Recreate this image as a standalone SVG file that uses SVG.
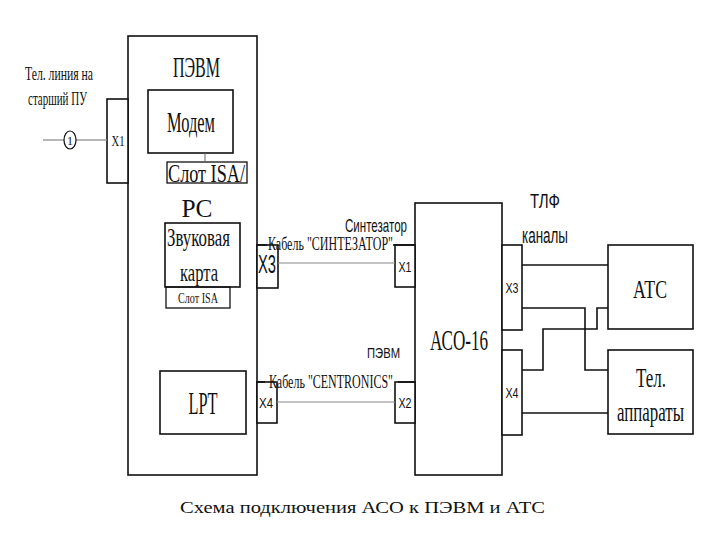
<svg xmlns="http://www.w3.org/2000/svg" width="720" height="540" viewBox="0 0 720 540">
<style>
.box{fill:#fff;stroke:#111;stroke-width:1.6}
.sbox{fill:none;stroke:#111;stroke-width:1.3}
.wire{fill:none;stroke:#111;stroke-width:1.6}
.thin{fill:none;stroke:#888;stroke-width:1.2}
.serif{font-family:"Liberation Serif","DejaVu Serif",serif;fill:#111}
.sans{font-family:"Liberation Sans","DejaVu Sans",sans-serif;fill:#111}
.c{text-anchor:middle}
</style>
<rect width="720" height="540" fill="#fff"/>

<g id="tel-line-label">
<text class="serif c" x="59" y="80" font-size="19" textLength="68" lengthAdjust="spacingAndGlyphs">Тел. линия на</text>
<text class="serif c" x="57.5" y="105" font-size="19" textLength="59" lengthAdjust="spacingAndGlyphs">старший ПУ</text>
</g>

<g id="pevm">
<rect class="box" x="128" y="36" width="129" height="439"/>
<text class="serif c" x="196.5" y="77" font-size="29" textLength="47" lengthAdjust="spacingAndGlyphs">ПЭВМ</text>
<text class="serif c" x="197" y="217" font-size="25" textLength="31" lengthAdjust="spacingAndGlyphs">PC</text>
</g>

<g id="x1-pevm">
<rect class="box" x="107" y="99" width="21" height="84"/>
<text class="serif c" x="118" y="146" font-size="15" textLength="13" lengthAdjust="spacingAndGlyphs">X1</text>
</g>

<g id="modem">
<rect class="box" x="148" y="90" width="85" height="63"/>
<text class="serif c" x="191" y="132" font-size="29" textLength="48" lengthAdjust="spacingAndGlyphs">Модем</text>
</g>

<g id="slot-isa-1">
<rect class="sbox" x="167" y="162" width="80" height="21" stroke="#555"/>
<text class="serif c" x="206.5" y="182" font-size="25" textLength="77" lengthAdjust="spacingAndGlyphs">Слот ISA/</text>
</g>

<g id="sound-card">
<rect class="box" x="165" y="223" width="75" height="64"/>
<text class="serif c" x="198.5" y="246" font-size="26" textLength="63" lengthAdjust="spacingAndGlyphs">Звуковая</text>
<text class="serif c" x="199" y="281" font-size="26" textLength="38" lengthAdjust="spacingAndGlyphs">карта</text>
</g>

<g id="slot-isa-2">
<rect class="sbox" x="166" y="287" width="64" height="21"/>
<text class="serif c" x="198" y="303" font-size="15" textLength="40" lengthAdjust="spacingAndGlyphs">Слот ISA</text>
</g>

<g id="lpt">
<rect class="box" x="160" y="371" width="86" height="63"/>
<text class="serif c" x="203" y="414" font-size="32" textLength="29" lengthAdjust="spacingAndGlyphs">LPT</text>
</g>

<g id="x3-pevm">
<rect class="box" x="257" y="245" width="21" height="43"/>
<text class="sans c" x="267" y="273" font-size="25" textLength="18" lengthAdjust="spacingAndGlyphs">X3</text>
</g>

<g id="x4-pevm">
<rect class="box" x="257" y="382" width="20" height="41"/>
<text class="sans c" x="266" y="408" font-size="14" textLength="14" lengthAdjust="spacingAndGlyphs">X4</text>
</g>

<g id="aso16">
<rect class="box" x="415" y="203" width="87" height="272"/>
<text class="serif c" x="459" y="350" font-size="30" textLength="58" lengthAdjust="spacingAndGlyphs">АСО-16</text>
</g>

<g id="x1-aso">
<rect class="box" x="395" y="245" width="20" height="42"/>
<text class="sans c" x="405" y="272" font-size="14" textLength="13" lengthAdjust="spacingAndGlyphs">X1</text>
</g>

<g id="x2-aso">
<rect class="box" x="395" y="382" width="20" height="41"/>
<text class="sans c" x="405" y="408" font-size="14" textLength="13" lengthAdjust="spacingAndGlyphs">X2</text>
</g>

<g id="x3-aso">
<rect class="box" x="502" y="245" width="20" height="85"/>
<text class="sans c" x="512" y="293" font-size="14" textLength="13" lengthAdjust="spacingAndGlyphs">X3</text>
</g>

<g id="x4-aso">
<rect class="box" x="502" y="350" width="20" height="85"/>
<text class="sans c" x="512" y="398" font-size="14" textLength="13" lengthAdjust="spacingAndGlyphs">X4</text>
</g>

<g id="atc">
<rect class="box" x="608" y="245" width="85" height="84"/>
<text class="serif c" x="650" y="298" font-size="26" textLength="34" lengthAdjust="spacingAndGlyphs">АТС</text>
</g>

<g id="tel-apparaty">
<rect class="box" x="608" y="350" width="85" height="84"/>
<text class="serif c" x="651" y="387" font-size="28" textLength="30" lengthAdjust="spacingAndGlyphs">Тел.</text>
<text class="serif c" transform="translate(650.5,421) scale(1,1.27)" x="0" y="0" font-size="22" textLength="67" lengthAdjust="spacingAndGlyphs">аппараты</text>
</g>

<g id="connectors">
<line class="thin" x1="43" y1="140" x2="64" y2="140"/>
<line class="thin" x1="76" y1="140" x2="107" y2="140"/>
<ellipse cx="70" cy="140" rx="6" ry="9" fill="#fff" stroke="#111" stroke-width="1.2"/>
<text class="serif c" x="70" y="145" font-size="12">1</text>
<line x1="205" y1="153" x2="205" y2="162" stroke="#666" stroke-width="1"/>
<line class="wire" x1="257" y1="245" x2="267" y2="245" stroke-width="1.2"/>
<line class="wire" x1="393" y1="245" x2="415" y2="245" stroke-width="1.2"/>
<line class="thin" x1="278" y1="263" x2="395" y2="263"/>
<line class="wire" x1="257" y1="382" x2="265" y2="382" stroke-width="1.2"/>
<line class="wire" x1="398" y1="382" x2="415" y2="382" stroke-width="1.2"/>
<line class="thin" x1="277" y1="402" x2="395" y2="402"/>
<line class="wire" x1="522" y1="265" x2="608" y2="265"/>
<polyline class="wire" points="522,308 585,308 585,370 608,370"/>
<polyline class="wire" points="522,370 543,370 543,329 597,329 597,308 608,308"/>
<line class="wire" x1="522" y1="413" x2="608" y2="413"/>
</g>

<g id="labels">
<text class="serif c" x="330.5" y="250" font-size="18" textLength="125" lengthAdjust="spacingAndGlyphs">Кабель "СИНТЕЗАТОР"</text>
<text class="sans c" x="376" y="232" font-size="19" textLength="62" lengthAdjust="spacingAndGlyphs">Синтезатор</text>
<text class="serif c" x="331" y="388" font-size="18" textLength="124" lengthAdjust="spacingAndGlyphs">Кабель "CENTRONICS"</text>
<text class="sans c" x="383.5" y="358" font-size="15" textLength="33" lengthAdjust="spacingAndGlyphs">ПЭВМ</text>
<text class="sans c" x="545" y="208" font-size="21" textLength="30" lengthAdjust="spacingAndGlyphs">ТЛФ</text>
<text class="sans c" x="545" y="243" font-size="22" textLength="46" lengthAdjust="spacingAndGlyphs">каналы</text>
<text class="serif c" x="362.5" y="513" font-size="17" textLength="365" lengthAdjust="spacingAndGlyphs">Схема подключения АСО к ПЭВМ и АТС</text>
</g>
</svg>
